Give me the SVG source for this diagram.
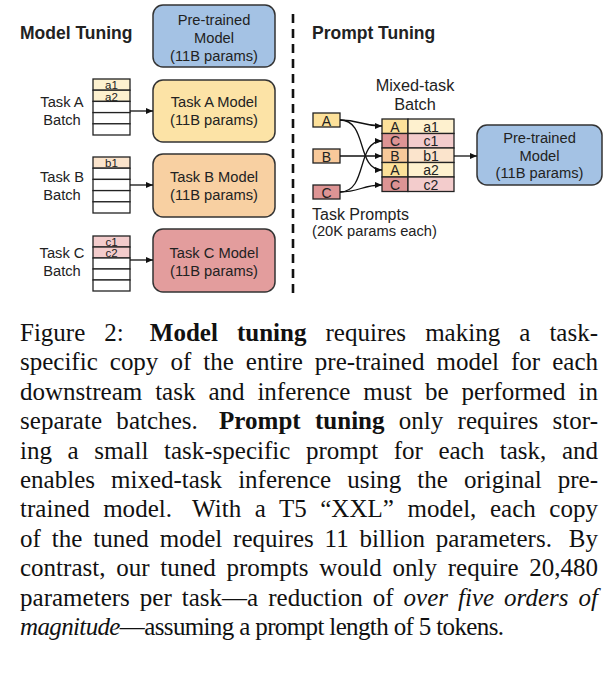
<svg xmlns="http://www.w3.org/2000/svg" width="616" height="682" viewBox="0 0 616 682">
<style>
.t{font-family:"Liberation Sans",Arial,sans-serif;fill:#222}
.m{font-size:14.7px;text-anchor:middle}
.h{font-size:17.5px;font-weight:bold}
.s{font-size:11.5px;text-anchor:middle}
.c{font-size:14px;text-anchor:middle}
.box{stroke:#333;stroke-width:1.5}
.cell{stroke:#222;stroke-width:1.3}
.cap{font-family:"Liberation Serif","Times New Roman",serif;font-size:25px;fill:#111}
.con{fill:none;stroke:#111;stroke-width:1.3}
</style>
<defs>
<marker id="ah" markerUnits="userSpaceOnUse" markerWidth="7" markerHeight="6" refX="7" refY="3" orient="auto">
<path d="M0,0 L7,3 L0,6 z" fill="#111"/>
</marker>
</defs>
<rect width="616" height="682" fill="#fff"/>

<text class="t h" x="20" y="39">Model Tuning</text>
<text class="t h" x="312" y="38.5">Prompt Tuning</text>
<line x1="293" y1="14" x2="293" y2="297" stroke="#111" stroke-width="2.6" stroke-dasharray="9 6"/>

<g id="pretrained-left">
<rect class="box" x="153" y="5" width="122" height="62" rx="10" fill="#a4c2e4"/>
<text class="t m" x="214" y="24.5">Pre-trained</text>
<text class="t m" x="214" y="42.5">Model</text>
<text class="t m" x="214" y="60.5">(11B params)</text>
</g>

<g id="taskA-batch">
<text class="t m" x="62" y="107">Task A</text>
<text class="t m" x="62" y="125">Batch</text>
<rect class="cell" x="93" y="79" width="37" height="11.2" fill="#fdf1cf"/>
<rect class="cell" x="93" y="90.2" width="37" height="11.2" fill="#fdf1cf"/>
<rect class="cell" x="93" y="101.4" width="37" height="11.2" fill="#fff"/>
<rect class="cell" x="93" y="112.6" width="37" height="11.2" fill="#fff"/>
<rect class="cell" x="93" y="123.8" width="37" height="11.2" fill="#fff"/>
<text class="t s" x="111.5" y="89.3">a1</text>
<text class="t s" x="111.5" y="100.6">a2</text>
</g>
<g id="taskA-model">
<rect class="box" x="153" y="80" width="122" height="62" rx="10" fill="#fce3a6"/>
<text class="t m" x="214" y="107">Task A Model</text>
<text class="t m" x="214" y="125">(11B params)</text>
</g>

<g id="taskB-batch">
<text class="t m" x="62" y="182">Task B</text>
<text class="t m" x="62" y="200">Batch</text>
<rect class="cell" x="93" y="157" width="37" height="11.2" fill="#fbe4cc"/>
<rect class="cell" x="93" y="168.2" width="37" height="11.2" fill="#fff"/>
<rect class="cell" x="93" y="179.4" width="37" height="11.2" fill="#fff"/>
<rect class="cell" x="93" y="190.6" width="37" height="11.2" fill="#fff"/>
<rect class="cell" x="93" y="201.8" width="37" height="11.2" fill="#fff"/>
<text class="t s" x="111.5" y="167.4">b1</text>
</g>
<g id="taskB-model">
<rect class="box" x="153" y="154" width="122" height="63" rx="10" fill="#f8d0a2"/>
<text class="t m" x="214" y="182">Task B Model</text>
<text class="t m" x="214" y="200">(11B params)</text>
</g>

<g id="taskC-batch">
<text class="t m" x="62" y="258">Task C</text>
<text class="t m" x="62" y="276">Batch</text>
<rect class="cell" x="93" y="236" width="37" height="11" fill="#f3cccc"/>
<rect class="cell" x="93" y="247" width="37" height="11" fill="#f3cccc"/>
<rect class="cell" x="93" y="258" width="37" height="11" fill="#fff"/>
<rect class="cell" x="93" y="269" width="37" height="11" fill="#fff"/>
<rect class="cell" x="93" y="280" width="37" height="11" fill="#fff"/>
<text class="t s" x="111.5" y="246.3">c1</text>
<text class="t s" x="111.5" y="257.4">c2</text>
</g>
<g id="taskC-model">
<rect class="box" x="153" y="229" width="122" height="63" rx="10" fill="#e39d9d"/>
<text class="t m" x="214" y="258">Task C Model</text>
<text class="t m" x="214" y="276">(11B params)</text>
</g>

<g id="prompt-A">
<rect class="cell" x="313" y="113" width="27" height="14" fill="#fde19a"/>
<text class="t c" x="326.5" y="125.5">A</text>
</g>
<g id="prompt-B">
<rect class="cell" x="313" y="149" width="27" height="14" fill="#f8c99a"/>
<text class="t c" x="326.5" y="161.5">B</text>
</g>
<g id="prompt-C">
<rect class="cell" x="313" y="185" width="27" height="14" fill="#dd9494"/>
<text class="t c" x="326.5" y="197.5">C</text>
</g>
<g id="task-prompts-label">
<text class="t" x="312" y="220" font-size="16px">Task Prompts</text>
<text class="t" x="312" y="236" font-size="14.7px">(20K params each)</text>
</g>

<g id="mixed-batch">
<text class="t" x="415" y="91" font-size="16.3px" text-anchor="middle">Mixed-task</text>
<text class="t" x="415" y="110" font-size="16.3px" text-anchor="middle">Batch</text>
<rect class="cell" x="382" y="119" width="26" height="14.5" fill="#fde19a"/>
<rect class="cell" x="408" y="119" width="46" height="14.5" fill="#fef1cf"/>
<rect class="cell" x="382" y="133.5" width="26" height="14.5" fill="#dd9494"/>
<rect class="cell" x="408" y="133.5" width="46" height="14.5" fill="#f3cccc"/>
<rect class="cell" x="382" y="148" width="26" height="14.5" fill="#f8c99a"/>
<rect class="cell" x="408" y="148" width="46" height="14.5" fill="#fbe4cc"/>
<rect class="cell" x="382" y="162.5" width="26" height="14.5" fill="#fde19a"/>
<rect class="cell" x="408" y="162.5" width="46" height="14.5" fill="#fef1cf"/>
<rect class="cell" x="382" y="177" width="26" height="14.5" fill="#dd9494"/>
<rect class="cell" x="408" y="177" width="46" height="14.5" fill="#f3cccc"/>
<text class="t c" x="395" y="131.7">A</text><text class="t c" x="431" y="131.7">a1</text>
<text class="t c" x="395" y="146.2">C</text><text class="t c" x="431" y="146.2">c1</text>
<text class="t c" x="395" y="160.7">B</text><text class="t c" x="431" y="160.7">b1</text>
<text class="t c" x="395" y="175.2">A</text><text class="t c" x="431" y="175.2">a2</text>
<text class="t c" x="395" y="189.7">C</text><text class="t c" x="431" y="189.7">c2</text>
</g>

<g id="pretrained-right">
<rect class="box" x="477" y="125" width="125" height="60" rx="10" fill="#a4c2e4"/>
<text class="t m" x="539.5" y="143">Pre-trained</text>
<text class="t m" x="539.5" y="160.5">Model</text>
<text class="t m" x="539.5" y="178">(11B params)</text>
</g>

<g id="connectors">
<line class="con" x1="130" y1="111" x2="153" y2="111" marker-end="url(#ah)"/>
<line class="con" x1="130" y1="185" x2="153" y2="185" marker-end="url(#ah)"/>
<line class="con" x1="130" y1="260" x2="153" y2="260" marker-end="url(#ah)"/>
<path class="con" d="M340,120 C360,120 362,126 382,126" marker-end="url(#ah)"/>
<path class="con" d="M340,120 C368,120 356,170 382,170" marker-end="url(#ah)"/>
<line class="con" x1="340" y1="156" x2="382" y2="156" marker-end="url(#ah)"/>
<path class="con" d="M340,192 C368,192 356,141 382,141" marker-end="url(#ah)"/>
<path class="con" d="M340,192 C360,192 362,185 382,185" marker-end="url(#ah)"/>
<line class="con" x1="454" y1="156" x2="477" y2="156" marker-end="url(#ah)"/>
</g>

<g id="caption">
<text class="cap" x="20" y="341" word-spacing="12.8" textLength="578" lengthAdjust="spacing">Figure 2: <tspan dx="7" font-weight="bold">Model tuning</tspan> requires making a task-</text>
<text class="cap" x="20" y="370.4" word-spacing="5.8" textLength="578" lengthAdjust="spacing">specific copy of the entire pre-trained model for each</text>
<text class="cap" x="20" y="399.8" word-spacing="6.7" textLength="578" lengthAdjust="spacing">downstream task and inference must be performed in</text>
<text class="cap" x="20" y="429.2" word-spacing="8" textLength="578" lengthAdjust="spacing">separate batches. <tspan dx="7" font-weight="bold">Prompt tuning</tspan> only requires stor-</text>
<text class="cap" x="20" y="458.6" word-spacing="9.3" textLength="578" lengthAdjust="spacing">ing a small task-specific prompt for each task, and</text>
<text class="cap" x="20" y="488" word-spacing="9.8" textLength="578" lengthAdjust="spacing">enables mixed-task inference using the original pre-</text>
<text class="cap" x="20" y="517.4" word-spacing="7.2" textLength="578" lengthAdjust="spacing">trained model. <tspan dx="7">With a T5 “XXL” model, each copy</tspan></text>
<text class="cap" x="20" y="546.8" word-spacing="4.6" textLength="578" lengthAdjust="spacing">of the tuned model requires 11 billion parameters. <tspan dx="6">By</tspan></text>
<text class="cap" x="20" y="576.2" word-spacing="4.5" textLength="578" lengthAdjust="spacing">contrast, our tuned prompts would only require 20,480</text>
<text class="cap" x="20" y="605.6" word-spacing="3.7" textLength="578" lengthAdjust="spacing">parameters per task—a reduction of <tspan font-style="italic">over five orders of</tspan></text>
<text class="cap" x="20" y="635" textLength="484" lengthAdjust="spacing"><tspan font-style="italic">magnitude</tspan>—assuming a prompt length of 5 tokens.</text>
</g>
</svg>
